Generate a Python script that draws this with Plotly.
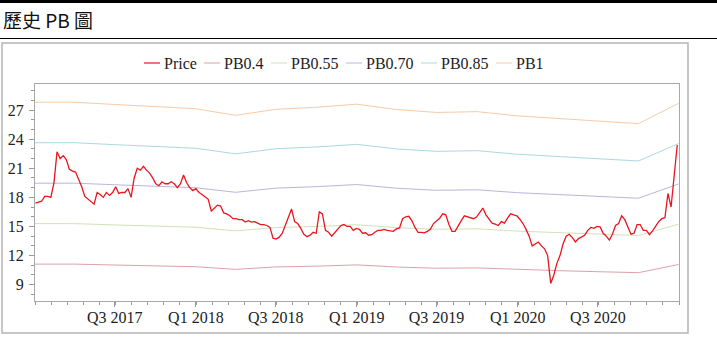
import plotly.graph_objects as go
import pandas as pd

# ---------------- data ----------------
bv_dates = ["2017-01-01", "2017-04-01", "2017-07-01", "2017-10-01", "2018-01-01",
            "2018-04-01", "2018-07-01", "2018-10-01", "2019-01-01", "2019-04-01",
            "2019-07-01", "2019-10-01", "2020-01-01", "2020-04-01", "2020-07-01",
            "2020-10-01", "2020-12-31"]
pb040 = [11.12, 11.12, 11.03, 10.95, 10.85, 10.58, 10.83, 10.91, 11.04, 10.82,
         10.70, 10.73, 10.56, 10.45, 10.34, 10.24, 11.08]
pb055 = [15.29, 15.29, 15.16, 15.06, 14.92, 14.55, 14.89, 15.00, 15.18, 14.88,
         14.71, 14.76, 14.52, 14.37, 14.22, 14.07, 15.23]
pb070 = [19.46, 19.46, 19.30, 19.17, 18.99, 18.52, 18.95, 19.10, 19.32, 18.94,
         18.73, 18.78, 18.48, 18.29, 18.10, 17.91, 19.38]
pb085 = [23.63, 23.63, 23.43, 23.27, 23.06, 22.48, 23.01, 23.19, 23.46, 22.99,
         22.74, 22.81, 22.44, 22.21, 21.98, 21.75, 23.54]
pb100 = [27.80, 27.80, 27.57, 27.38, 27.13, 26.45, 27.07, 27.28, 27.60, 27.05,
         26.75, 26.83, 26.40, 26.13, 25.86, 25.59, 27.69]

price_dates = pd.date_range("2017-01-02", "2020-12-28", freq="7D")
price = [
    17.4, 17.5, 17.6, 18.1, 18.1, 18.0, 19.5, 22.7, 22.0, 22.3,
    21.9, 20.9, 20.7, 20.6, 19.9, 19.1, 18.1, 17.8, 17.6, 17.3,
    18.5, 18.3, 18.0, 18.5, 18.2, 18.5, 19.1, 18.4, 18.5, 18.5,
    18.9, 18.0, 20.0, 21.0, 20.8, 21.2, 20.8, 20.5, 20.0, 19.4,
    19.2, 19.6, 19.4, 19.4, 19.6, 19.4, 19.0, 19.4, 20.3, 19.5,
    19.0, 18.7, 18.9, 18.5, 18.3, 18.0, 17.8, 16.6, 16.9, 17.2,
    17.1, 16.4, 16.3, 16.1, 15.8, 15.8, 15.7, 15.7, 15.45, 15.6,
    15.45, 15.5, 15.35, 15.2, 15.2, 15.1, 14.9, 13.8, 13.7, 13.9,
    14.3, 15.1, 16.1, 16.8, 15.5, 15.3, 14.8, 14.2, 13.95, 14.1,
    14.4, 14.3, 16.5, 16.3, 14.6, 14.4, 14.0, 14.4, 14.8, 15.1,
    15.2, 15.0, 15.0, 14.6, 14.8, 14.7, 14.3, 14.35, 14.1, 14.15,
    14.4, 14.6, 14.6, 14.7, 14.6, 14.55, 14.5, 14.75, 14.85, 15.8,
    16.0, 16.05, 15.6, 14.9, 14.4, 14.4, 14.35, 14.5, 14.7, 15.3,
    15.6, 15.85, 16.3, 16.2, 15.2, 14.5, 14.5, 15.1, 15.6, 16.1,
    16.0, 15.95, 15.8, 16.0, 16.4, 16.9, 16.2, 15.8, 15.35, 15.25,
    15.1, 15.5, 15.35, 15.85, 16.3, 16.2, 16.1, 15.75, 15.3, 14.7,
    14.0, 13.0, 13.2, 13.4, 13.0, 12.7, 12.0, 9.13, 10.0, 11.2,
    12.0, 13.2, 14.0, 14.2, 13.85, 13.4, 13.75, 13.9, 14.1, 14.6,
    14.9, 14.8, 15.0, 14.95, 14.3, 14.0, 13.6, 14.2, 15.1, 15.3,
    16.1, 15.7, 15.0, 14.2, 14.3, 15.2, 15.2, 14.6, 14.6, 14.15,
    14.55, 15.05, 15.5, 15.8, 15.9, 18.4, 17.0, 20.2, 23.4,
]

series_names = ["Price", "PB0.4", "PB0.55", "PB0.70", "PB0.85", "PB1"]
series_colors = ["#e8161e", "#dca2aa", "#d2e2b6", "#bcb6da", "#a9d8e2", "#f8caa6"]
band_values = [pb040, pb055, pb070, pb085, pb100]

x_tick_vals = ["2017-07-01", "2018-01-01", "2018-07-01", "2019-01-01",
               "2019-07-01", "2020-01-01", "2020-07-01"]
x_tick_text = ["Q3 2017", "Q1 2018", "Q3 2018", "Q1 2019",
               "Q3 2019", "Q1 2020", "Q3 2020"]
title_text = "歷史 PB 圖"

# ---------------- layout constants ----------------
W, H = 717, 353
ML, MR, MT, MB = 35, 38, 84, 52
PW, PH = W - ML - MR, H - MT - MB


def px(xp):
    return (xp - ML) / PW


def py(yp):
    return (H - MB - yp) / PH


serif = "Liberation Serif, Times New Roman, serif"

fig = go.Figure()
for name, color, vals in zip(series_names[1:], series_colors[1:], band_values):
    fig.add_trace(go.Scatter(x=bv_dates, y=vals, mode="lines", name=name,
                             line=dict(color=color, width=1), showlegend=False))
fig.add_trace(go.Scatter(x=price_dates, y=price, mode="lines", name="Price",
                         line=dict(color=series_colors[0], width=1.3), showlegend=False))

shapes = []
annotations = []

# header
shapes.append(dict(type="rect", xref="paper", yref="paper", x0=px(0), x1=px(W),
                   y0=py(3), y1=py(0), fillcolor="black", line=dict(width=0)))
shapes.append(dict(type="line", xref="paper", yref="paper", x0=px(0), x1=px(W),
                   y0=py(38.5), y1=py(38.5), line=dict(color="black", width=1)))
annotations.append(dict(xref="paper", yref="paper", x=px(1), y=py(20), xanchor="left",
                        yanchor="middle", showarrow=False, text=title_text,
                        font=dict(family="Noto Sans CJK TC", size=19, color="#111")))
# chart frame
shapes.append(dict(type="rect", xref="paper", yref="paper", x0=px(2), x1=px(688),
                   y0=py(333), y1=py(43), line=dict(color="#b4b4b4", width=1.5),
                   fillcolor="rgba(0,0,0,0)"))

# custom legend
leg_x0 = [144, 204, 271, 346, 421, 496]
leg_y = 63
for name, color, x0 in zip(series_names, series_colors, leg_x0):
    shapes.append(dict(type="line", xref="paper", yref="paper", x0=px(x0), x1=px(x0 + 16),
                       y0=py(leg_y), y1=py(leg_y),
                       line=dict(color=color, width=1.2 if name == "Price" else 1)))
    annotations.append(dict(xref="paper", yref="paper", x=px(x0 + 18), y=py(leg_y),
                            xanchor="left", yanchor="middle", showarrow=False, text=name,
                            font=dict(family=serif, size=16, color="#222")))

fig.update_layout(
    width=W, height=H,
    margin=dict(l=ML, r=MR, t=MT, b=MB, pad=0, autoexpand=False),
    paper_bgcolor="white", plot_bgcolor="white",
    shapes=shapes, annotations=annotations,
    showlegend=False,
    xaxis=dict(
        type="date", range=["2017-01-01", "2021-01-01"], automargin=False,
        tickvals=x_tick_vals, ticktext=x_tick_text,
        ticks="outside", ticklen=5, tickcolor="#999", tickwidth=1,
        showgrid=False, zeroline=False,
        showline=True, linecolor="#a8a8a8", linewidth=1, mirror=True,
        tickfont=dict(family=serif, size=16, color="#222"),
        ticklabelstandoff=-3,
        minor=dict(ticks="outside", ticklen=3, tickcolor="#999",
                   tick0="2017-01-01", dtick=36.525 * 86400000, showgrid=False),
    ),
    yaxis=dict(
        range=[7.32, 29.68], tick0=0, dtick=3, automargin=False,
        ticks="outside", ticklen=5, tickcolor="#999", tickwidth=1,
        showgrid=False, zeroline=False,
        showline=True, linecolor="#a8a8a8", linewidth=1, mirror=True,
        tickfont=dict(family=serif, size=16, color="#222"),
        ticklabelstandoff=2,
        minor=dict(ticks="outside", ticklen=3, tickcolor="#999", tick0=0, dtick=1,
                   showgrid=False),
    ),
)

fig.write_html("out.html", config={"displayModeBar": False})
